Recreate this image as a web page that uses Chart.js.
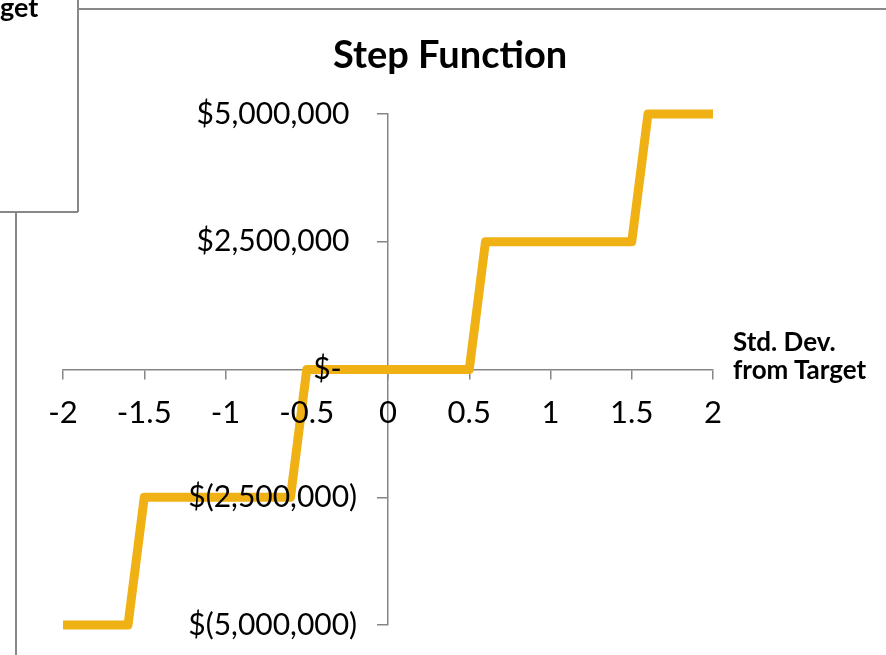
<!DOCTYPE html>
<html>
<head>
<meta charset="utf-8">
<script src="https://cdn.jsdelivr.net/npm/chart.js@4"></script>
<style>
  body { margin: 0; background: #fff; overflow: hidden; }
  #wrap { position: relative; width: 886px; height: 655px; }
  #chart { position: absolute; left: 0; top: 0; }
  .txt { position: absolute; font-family: Lato, sans-serif; font-weight: bold; color: #000; white-space: nowrap; }
  .ln { position: absolute; background: #888; }
</style>
</head>
<body>
<div id="wrap">
  <canvas id="chart" width="886" height="655"></canvas>
  <!-- bits of the neighbouring chart that got cropped in -->
  <div class="ln" style="left:0; top:211px; width:78px; height:1.5px;"></div>
  <div class="ln" style="left:77px; top:0; width:1.5px; height:212px;"></div>
  <div class="ln" style="left:78px; top:8px; width:808px; height:1.5px;"></div>
  <div class="ln" style="left:15px; top:212px; width:1.5px; height:443px;"></div>
  <div class="txt" style="left:0; top:-10px; font-size:27px;">get</div>
  <div class="txt" style="left:333px; top:30px; font-size:38px;">Step Function</div>
  <div class="txt" style="left:733px; top:327px; font-size:26px; line-height:28px;">Std. Dev.<br>from Target</div>
</div>
<script>
// values
const stdDev = [-2, -1.6, -1.5, -0.6, -0.5, 0.5, 0.6, 1.5, 1.6, 2];
const payoff = [-5000000, -5000000, -2500000, -2500000, 0, 0, 2500000, 2500000, 5000000, 5000000];

const xTicks = [-2, -1.5, -1, -0.5, 0, 0.5, 1, 1.5, 2];
const yTicks = [-5000000, -2500000, 0, 2500000, 5000000];

const axisGray = '#868686';
const lineColor = '#F0B114';

// accounting style like Excel: $5,000,000 / $(2,500,000) / $-
function money(v) {
    if (v === 0) return '$-  ';
    const s = Math.abs(v).toLocaleString('en-US');
    return v < 0 ? '$(' + s + ')' : '$' + s + ' ';
}

function setTicks(values) {
    return function(scale) {
        scale.ticks = values.map(v => ({ value: v }));
    };
}

// axes sit in the middle, they should not eat layout space
function noSpace(scale) {
    if (scale.isHorizontal()) scale.height = 0; else scale.width = 0;
    scale.paddingTop = scale.paddingBottom = scale.paddingLeft = scale.paddingRight = 0;
}

const ctx = document.getElementById('chart').getContext('2d');
new Chart(ctx, {
    type: 'scatter',
    data: {
        datasets: [{
            data: stdDev.map((x, i) => ({ x: x, y: payoff[i] })),
            showLine: true,
            borderColor: lineColor,
            backgroundColor: lineColor,
            borderWidth: 9,
            borderJoinStyle: 'round',
            pointRadius: 0,
            tension: 0,
            clip: false
        }]
    },
    options: {
        responsive: false,
        animation: false,
        devicePixelRatio: 1,
        layout: { padding: { left: 63, right: 173, top: 114, bottom: 30 } },
        plugins: {
            legend: { display: false },
            title: { display: false },
            tooltip: { enabled: false }
        },
        scales: {
            x: {
                type: 'linear', min: -2, max: 2,
                position: { y: 0 },
                afterBuildTicks: setTicks(xTicks),
                afterFit: noSpace,
                ticks: { z: 1, color: '#000', font: { family: 'Lato', size: 31 }, padding: 16, maxRotation: 0, autoSkip: false, callback: v => String(v) },
                grid: { display: true, drawOnChartArea: false, drawTicks: true, tickLength: 9, color: axisGray, lineWidth: 1.5 },
                border: { display: true, color: axisGray, width: 1.5 }
            },
            y: {
                type: 'linear', min: -5000000, max: 5000000,
                position: { x: 0 },
                afterBuildTicks: setTicks(yTicks),
                afterFit: noSpace,
                ticks: { display: false },
                grid: { display: true, drawOnChartArea: false, drawTicks: true, tickLength: 10, color: axisGray, lineWidth: 1.5 },
                border: { display: true, color: axisGray, width: 1.5 }
            },
            // y labels only: chart.js ignores tick padding on a value-positioned y axis,
            // so this one sits a bit left of x = 0
            yLab: {
                type: 'linear', axis: 'y', min: -5000000, max: 5000000,
                position: { x: -0.19 },
                afterBuildTicks: setTicks(yTicks),
                afterFit: noSpace,
                ticks: { z: 1, color: '#000', font: { family: 'Lato', size: 30 }, autoSkip: false, callback: v => money(v) },
                grid: { display: false, drawTicks: false },
                border: { display: false }
            }
        }
    }
});
</script>
</body>
</html>
